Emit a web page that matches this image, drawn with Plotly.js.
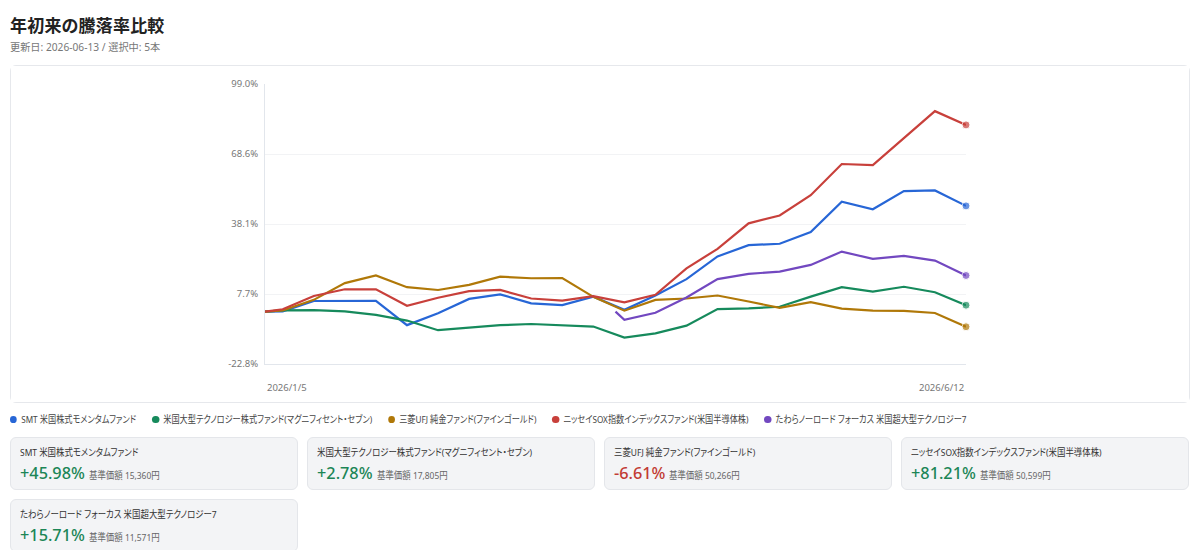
<!DOCTYPE html>
<html lang="ja">
<head>
<meta charset="utf-8">
<script src="https://cdn.plot.ly/plotly-3.0.1.min.js"></script>
<style>
  html, body { margin: 0; padding: 0; background: #ffffff; }
  body { width: 1200px; height: 550px; overflow: hidden;
    font-family: "Noto Sans", "Noto Sans CJK JP", sans-serif;
    font-feature-settings: "palt"; color: #222; }
  .wrap { position: absolute; left: 10px; top: 0; width: 1180px; }
  h1 { margin: 0; position: absolute; top: 12px; left: 0; font-size: 17px; font-weight: 700; color: #222; white-space: nowrap; letter-spacing: 0.2px; }
  .sub { position: absolute; top: 39px; left: 0; font-size: 10.2px; color: #777; white-space: nowrap; }
  .card { position: absolute; top: 65px; left: 0; width: 1178px; height: 336px; border: 1px solid #e6e8ec; border-radius: 6px; background: #fff; }
  #chart { width: 1178px; height: 336px; }
  .legend { position: absolute; top: 412px; left: 0; display: flex; gap: 19px; font-size: 9.8px; color: #444; white-space: nowrap; transform: scaleX(0.835); transform-origin: left center; }
  .legend .item { display: flex; align-items: center; gap: 5px; }
  .legend .dot { width: 8.4px; height: 7px; border-radius: 50%; display: inline-block; }
  .cards { position: absolute; top: 437px; left: 0; display: grid; grid-template-columns: repeat(4, 288px); column-gap: 9px; row-gap: 9px; }
  .fc { box-sizing: border-box; height: 53px; background: #f3f4f6; border: 1px solid #e4e6ea; border-radius: 6px; padding: 8px 9px 0 9px; overflow: hidden; }
  .fc .nm { font-size: 9.8px; color: #333; white-space: nowrap; line-height: 14px; transform: scaleX(0.86); transform-origin: left center; }
  .fc .rw { margin-top: 3px; white-space: nowrap; line-height: 20px; }
  .fc .pc { font-size: 16.3px; font-weight: 500; }
  .fc .nv { display: inline-block; font-size: 9.8px; color: #666; margin-left: 4px; transform: scaleX(0.86); transform-origin: left center; }
  .pos { color: #1c8656; }
  .neg { color: #c23b33; }
</style>
</head>
<body>
<div class="wrap">
  <h1 id="title"></h1>
  <div class="sub" id="sub"></div>
  <div class="card"><div id="chart"></div></div>
  <div class="legend" id="legend"></div>
  <div class="cards" id="cards"></div>
</div>
<script>
// ---- data ----
const chartTitle = "年初来の騰落率比較";
const subtitle = "更新日: 2026-06-13 / 選択中: 5本";

const dates = ['2026-01-05','2026-01-09','2026-01-16','2026-01-23','2026-01-30','2026-02-06','2026-02-13','2026-02-20','2026-02-27','2026-03-06','2026-03-13','2026-03-20','2026-03-27','2026-04-03','2026-04-10','2026-04-17','2026-04-24','2026-05-01','2026-05-08','2026-05-15','2026-05-22','2026-05-29','2026-06-05','2026-06-12'];
const tawaraDates = ['2026-03-25','2026-03-27','2026-04-03','2026-04-10','2026-04-17','2026-04-24','2026-05-01','2026-05-08','2026-05-15','2026-05-22','2026-05-29','2026-06-05','2026-06-12'];

const fundNames = [
  "SMT 米国株式モメンタムファンド",
  "米国大型テクノロジー株式ファンド(マグニフィセント・セブン)",
  "三菱UFJ 純金ファンド(ファインゴールド)",
  "ニッセイSOX指数インデックスファンド(米国半導体株)",
  "たわらノーロード フォーカス 米国超大型テクノロジー7"
];
const fundColors = ['#2766d6', '#168a5c', '#b07808', '#c8403b', '#7248c0'];

const smtValues   = [0, 0.1, 4.6, 4.6, 4.7, -5.9, -0.7, 5.5, 7.5, 3.6, 2.8, 6.5, 0.8, 7.0, 14.1, 24.0, 28.9, 29.5, 34.6, 47.8, 44.5, 52.4, 52.7, 45.98];
const mag7Values  = [0, 0.5, 0.6, 0.1, -1.4, -3.9, -8.1, -7.0, -5.9, -5.4, -5.9, -6.5, -11.3, -9.5, -6.1, 1.1, 1.4, 2.1, 6.5, 10.6, 8.7, 10.8, 8.4, 2.78];
const goldValues  = [0, 0.5, 5.1, 12.4, 15.7, 10.6, 9.4, 11.6, 15.2, 14.5, 14.6, 6.4, 0.4, 5.1, 5.7, 7.0, 4.4, 1.6, 4.1, 1.3, 0.4, 0.3, -0.6, -6.61];
const soxValues   = [0, 1.0, 6.8, 9.7, 9.7, 2.5, 6.0, 8.9, 9.4, 5.7, 4.8, 6.7, 4.0, 7.3, 18.8, 27.3, 38.4, 41.8, 50.6, 64.2, 63.7, 75.4, 87.2, 81.21];
const tawaraValues = [0, -3.6, -0.5, 6.1, 14.1, 16.4, 17.4, 20.3, 26.1, 22.9, 24.2, 22.2, 15.71];

const navPrices = ["15,360円", "17,805円", "50,266円", "50,599円", "11,571円"];
const navLabel = "基準価額";

const yTickVals = [-22.8, 7.65, 38.1, 68.55, 99.0];
const yTickText = ['-22.8%', '7.7%', '38.1%', '68.6%', '99.0%'];
const xTickLabels = ['2026/1/5', '2026/6/12'];

// ---- build ----
document.getElementById('title').textContent = chartTitle;
document.getElementById('sub').textContent = subtitle;

const seriesX = [dates, dates, dates, dates, tawaraDates];
const seriesY = [smtValues, mag7Values, goldValues, soxValues, tawaraValues];

const traces = seriesY.map((ys, i) => ({
  type: 'scatter',
  mode: 'lines+markers',
  x: seriesX[i],
  y: ys,
  name: fundNames[i],
  line: { color: fundColors[i], width: 2.2 },
  marker: { color: fundColors[i], size: ys.map((v, j) => j === ys.length - 1 ? 8 : 0) },
  cliponaxis: false,
  hovertemplate: '%{y:.2f}%<extra>' + fundNames[i] + '</extra>'
}));

const tickFont = { family: '"Noto Sans", "Noto Sans CJK JP", sans-serif', size: 9.5, color: '#777' };

const layout = {
  width: 1178, height: 336,
  margin: { l: 254, r: 223, t: 18, b: 38 },
  paper_bgcolor: '#ffffff', plot_bgcolor: '#ffffff',
  showlegend: false,
  xaxis: {
    type: 'date',
    range: [dates[0], dates[dates.length - 1]],
    showgrid: false, zeroline: false,
    showticklabels: false, ticks: '',
    showline: true, linecolor: '#e2e6ec', linewidth: 1
  },
  yaxis: {
    range: [yTickVals[0], yTickVals[yTickVals.length - 1]],
    tickvals: yTickVals, ticktext: yTickText,
    tickfont: tickFont, ticks: '', ticklabelstandoff: 4,
    showgrid: true, gridcolor: '#f2f3f5', gridwidth: 1,
    zeroline: false,
    showline: true, linecolor: '#e2e6ec', linewidth: 1
  },
  annotations: [
    { x: dates[0], y: 0, xref: 'x', yref: 'paper', yshift: -23, xanchor: 'left', yanchor: 'middle', text: xTickLabels[0], showarrow: false, font: tickFont },
    { x: dates[dates.length - 1], y: 0, xref: 'x', yref: 'paper', yshift: -23, xanchor: 'right', yanchor: 'middle', text: xTickLabels[1], showarrow: false, font: tickFont }
  ]
};

Plotly.newPlot('chart', traces, layout, { displayModeBar: false, responsive: false });

// legend
const legend = document.getElementById('legend');
fundNames.forEach((n, i) => {
  const it = document.createElement('span');
  it.className = 'item';
  it.innerHTML = '<span class="dot" style="background:' + fundColors[i] + '"></span><span></span>';
  it.lastChild.textContent = n;
  legend.appendChild(it);
});

// cards
const cards = document.getElementById('cards');
fundNames.forEach((n, i) => {
  const ys = seriesY[i];
  const v = ys[ys.length - 1];
  const c = document.createElement('div');
  c.className = 'fc';
  const nm = document.createElement('div'); nm.className = 'nm'; nm.textContent = n;
  const rw = document.createElement('div'); rw.className = 'rw';
  const pc = document.createElement('span'); pc.className = 'pc ' + (v >= 0 ? 'pos' : 'neg');
  pc.textContent = (v >= 0 ? '+' : '') + v.toFixed(2) + '%';
  const nv = document.createElement('span'); nv.className = 'nv'; nv.textContent = navLabel + ' ' + navPrices[i];
  rw.appendChild(pc); rw.appendChild(nv);
  c.appendChild(nm); c.appendChild(rw);
  cards.appendChild(c);
});
</script>
</body>
</html>
